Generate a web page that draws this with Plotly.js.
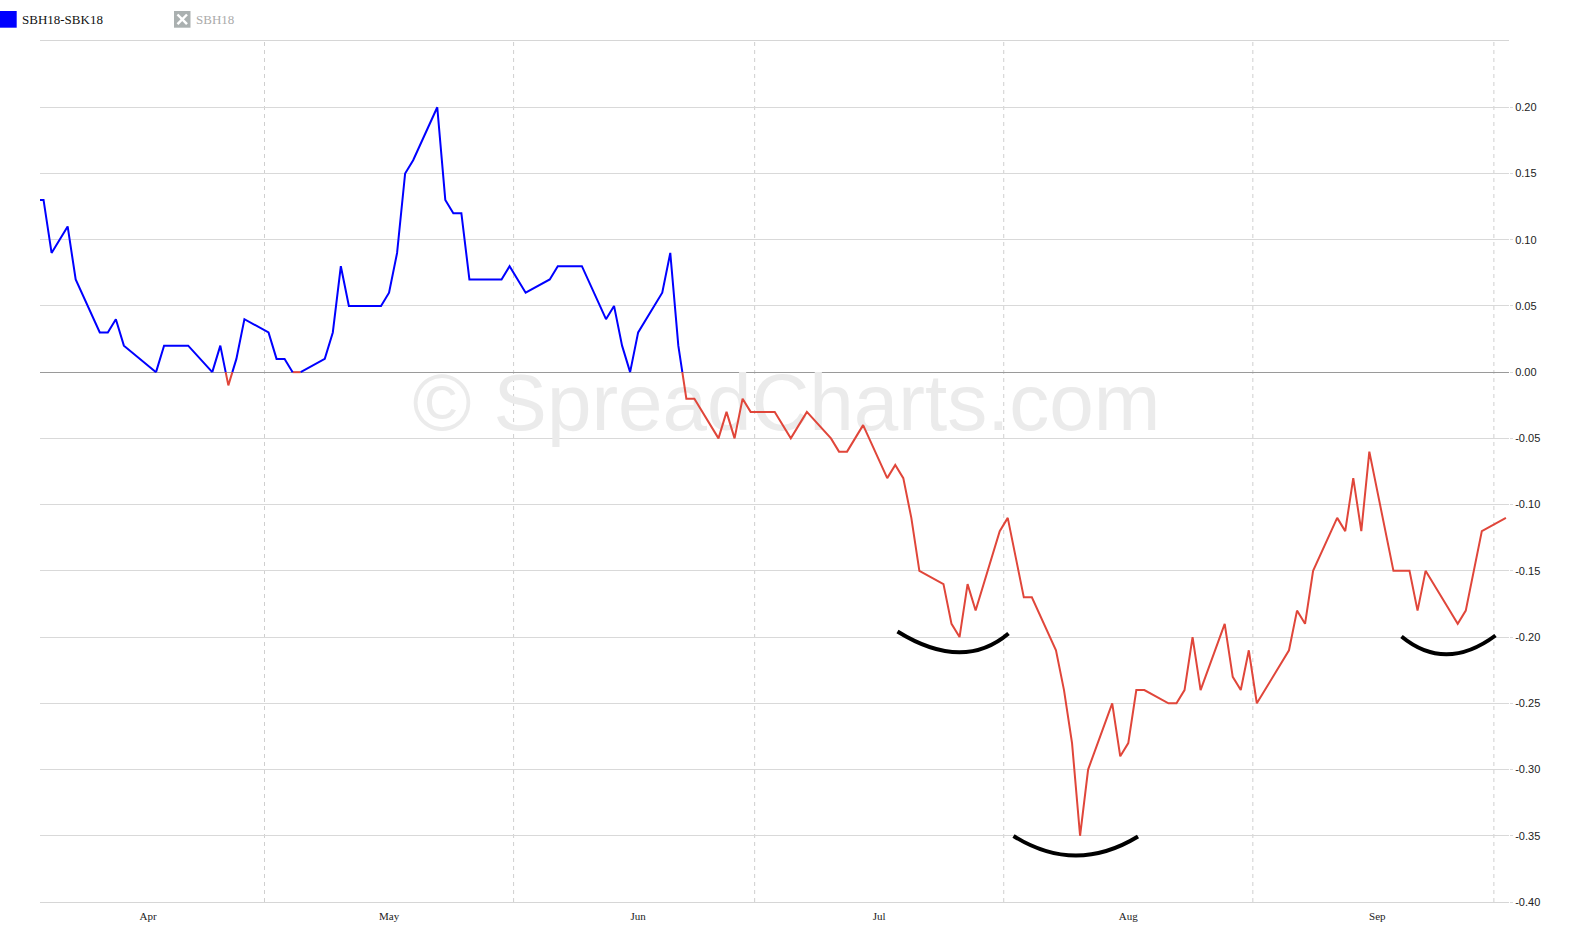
<!DOCTYPE html>
<html>
<head>
<meta charset="utf-8">
<script src="https://cdn.plot.ly/plotly-3.0.1.min.js"></script>
<style>html,body{margin:0;padding:0;background:#fff;}#chart{width:1570px;height:938px;}</style>
</head>
<body>
<div id="chart"></div>
<script>
// ---- data (SBH18-SBK18 spread) ----
const dates = [
 '2018-03-16','2018-03-19','2018-03-20','2018-03-21','2018-03-22','2018-03-23',
 '2018-03-26','2018-03-27','2018-03-28','2018-03-29',
 '2018-04-02','2018-04-03','2018-04-04','2018-04-05','2018-04-06',
 '2018-04-09','2018-04-10','2018-04-11','2018-04-12','2018-04-13',
 '2018-04-16','2018-04-17','2018-04-18','2018-04-19','2018-04-20',
 '2018-04-23','2018-04-24','2018-04-25','2018-04-26','2018-04-27',
 '2018-04-30','2018-05-01','2018-05-02','2018-05-03','2018-05-04',
 '2018-05-07','2018-05-08','2018-05-09','2018-05-10','2018-05-11',
 '2018-05-14','2018-05-15','2018-05-16','2018-05-17','2018-05-18',
 '2018-05-21','2018-05-22','2018-05-23','2018-05-24','2018-05-25',
 '2018-05-28','2018-05-29','2018-05-30','2018-05-31','2018-06-01',
 '2018-06-04','2018-06-05','2018-06-06','2018-06-07','2018-06-08',
 '2018-06-11','2018-06-12','2018-06-13','2018-06-14','2018-06-15',
 '2018-06-18','2018-06-19','2018-06-20','2018-06-21','2018-06-22',
 '2018-06-25','2018-06-26','2018-06-27','2018-06-28','2018-06-29',
 '2018-07-02','2018-07-03','2018-07-04','2018-07-05','2018-07-06',
 '2018-07-09','2018-07-10','2018-07-11','2018-07-12','2018-07-13',
 '2018-07-16','2018-07-17','2018-07-18','2018-07-19','2018-07-20',
 '2018-07-23','2018-07-24','2018-07-25','2018-07-26','2018-07-27',
 '2018-07-30','2018-07-31','2018-08-01','2018-08-02','2018-08-03',
 '2018-08-06','2018-08-07','2018-08-08','2018-08-09','2018-08-10',
 '2018-08-13','2018-08-14','2018-08-15','2018-08-16','2018-08-17',
 '2018-08-20','2018-08-21','2018-08-22','2018-08-23','2018-08-24',
 '2018-08-27','2018-08-28','2018-08-29','2018-08-30','2018-08-31',
 '2018-09-03','2018-09-04','2018-09-05','2018-09-06','2018-09-07',
 '2018-09-10','2018-09-11','2018-09-12','2018-09-13','2018-09-14',
 '2018-09-17'
];
const spread = [
 0.13,0.13,0.09,0.10,0.11,0.07,
 0.03,0.03,0.04,0.02,
 0.00,0.02,0.02,0.02,0.02,
 0.00,0.02,-0.01,0.01,0.04,
 0.03,0.01,0.01,0.00,0.00,
 0.01,0.03,0.08,0.05,0.05,
 0.05,0.06,0.09,0.15,0.16,
 0.20,0.13,0.12,0.12,0.07,
 0.07,0.07,0.08,0.07,0.06,
 0.07,0.08,0.08,0.08,0.08,
 0.04,0.05,0.02,0.00,0.03,
 0.06,0.09,0.02,-0.02,-0.02,
 -0.05,-0.03,-0.05,-0.02,-0.03,
 -0.03,-0.04,-0.05,-0.04,-0.03,
 -0.05,-0.06,-0.06,-0.05,-0.04,
 -0.08,-0.07,-0.08,-0.11,-0.15,
 -0.16,-0.19,-0.20,-0.16,-0.18,
 -0.12,-0.11,-0.14,-0.17,-0.17,
 -0.21,-0.24,-0.28,-0.35,-0.30,
 -0.25,-0.29,-0.28,-0.24,-0.24,
 -0.25,-0.25,-0.24,-0.20,-0.24,
 -0.19,-0.23,-0.24,-0.21,-0.25,
 -0.22,-0.21,-0.18,-0.19,-0.15,
 -0.11,-0.12,-0.08,-0.12,-0.06,
 -0.15,-0.15,-0.15,-0.18,-0.15,
 -0.18,-0.19,-0.18,-0.15,-0.12,
 -0.11
];
const monthTicks  = ['2018-04-01','2018-05-01','2018-06-01','2018-07-01','2018-08-01','2018-09-01'];
const monthLabels = ['Apr','May','Jun','Jul','Aug','Sep'];
const midMonthGrid = ['2018-04-15 12:00','2018-05-16 12:00','2018-06-15 12:00','2018-07-16 12:00','2018-08-16 12:00','2018-09-15 12:00'];
const yTicks = [0.20,0.15,0.10,0.05,0.00,-0.05,-0.10,-0.15,-0.20,-0.25,-0.30,-0.35,-0.40];
const seriesName = 'SBH18-SBK18';
const hiddenName = 'SBH18';
const watermark = '\u00A9 SpreadCharts.com';

// ---- split line into positive (blue) / non-positive (red) runs ----
function msOf(d){ return d.length === 10 ? Date.parse(d + 'T00:00:00Z') : Date.parse(d.replace(' ', 'T') + ':00Z'); }
function isoOf(ms){ return new Date(ms).toISOString().slice(0,19).replace('T',' '); }
const isPos = v => v > 0;
const runs = [];
let cur = {pos: isPos(spread[0]), x: [dates[0]], y: [spread[0]]};
for (let i = 1; i < spread.length; i++) {
  const a = spread[i-1], b = spread[i];
  if (isPos(a) === isPos(b)) { cur.x.push(dates[i]); cur.y.push(b); continue; }
  const ta = msOf(dates[i-1]), tb = msOf(dates[i]);
  const t = a / (a - b);
  const xc = isoOf(ta + t * (tb - ta));
  cur.x.push(xc); cur.y.push(0); runs.push(cur);
  cur = {pos: isPos(b), x: [xc, dates[i]], y: [0, b]};
}
runs.push(cur);
function joinRuns(flag){
  const x = [], y = [];
  runs.filter(r => r.pos === flag).forEach((r, k) => {
    if (k > 0) { x.push(null); y.push(null); }
    x.push(...r.x); y.push(...r.y);
  });
  return {x, y};
}
const blue = joinRuns(true), red = joinRuns(false);

// ---- plot area geometry (for decorations in paper coords) ----
const W = 1570, H = 938, PL = 40, PR = 1509, PT = 41, PB = 902;
const px = v => (v - PL) / (PR - PL);
const py = v => (PB - v) / (PB - PT);

const traces = [
  {x: ['2018-06-19 11:00'], y: [-0.0287], mode: 'text', text: [watermark],
   textfont: {family: 'Liberation Sans, Arial, sans-serif', size: 80, color: '#ebebeb'},
   textposition: 'middle center', hoverinfo: 'skip', showlegend: false, cliponaxis: false},
  {x: red.x, y: red.y, mode: 'lines', line: {color: '#e0463a', width: 2}, connectgaps: false,
   name: seriesName, showlegend: false, hoverinfo: 'x+y'},
  {x: blue.x, y: blue.y, mode: 'lines', line: {color: '#0000ff', width: 2}, connectgaps: false,
   name: seriesName, showlegend: false, hoverinfo: 'x+y'}
];

const shapes = [];
midMonthGrid.forEach(d => shapes.push({type: 'line', xref: 'x', yref: 'paper', x0: d, x1: d, y0: 0, y1: 1,
  line: {color: '#cfcfcf', width: 1, dash: '4px,4px'}, layer: 'below'}));

// hand-drawn smile arcs (quadratic curves, pixel positions -> paper)
function arc(x0, y0, xb, yb, x2, y2){
  const cx = 2*xb - (x0 + x2)/2, cy = 2*yb - (y0 + y2)/2;
  return {type: 'path', xref: 'paper', yref: 'paper',
    path: `M ${px(x0)},${py(y0)} Q ${px(cx)},${py(cy)} ${px(x2)},${py(y2)}`,
    line: {color: '#000', width: 4}, layer: 'above'};
}
shapes.push(arc(897.5, 631.5, 958, 652.3, 1008.5, 633.5));
shapes.push(arc(1013.5, 836, 1075.5, 855.5, 1138, 836.5));
shapes.push(arc(1401.5, 636.5, 1447, 654.3, 1495.5, 635.5));

// legend (drawn manually)
shapes.push({type: 'rect', xref: 'paper', yref: 'paper', x0: px(0), x1: px(16.7), y0: py(27.7), y1: py(11),
  fillcolor: '#0000ff', line: {width: 0}});
shapes.push({type: 'rect', xref: 'paper', yref: 'paper', x0: px(174), x1: px(190.5), y0: py(27.7), y1: py(11),
  fillcolor: '#aab0b0', line: {width: 0}});
shapes.push({type: 'line', xref: 'paper', yref: 'paper', x0: px(177.5), x1: px(187), y0: py(14.5), y1: py(24.2),
  line: {color: '#fff', width: 2.5}});
shapes.push({type: 'line', xref: 'paper', yref: 'paper', x0: px(177.5), x1: px(187), y0: py(24.2), y1: py(14.5),
  line: {color: '#fff', width: 2.5}});

const annotations = [
  {xref: 'paper', yref: 'paper', x: px(20), y: py(19.5), xanchor: 'left', yanchor: 'middle', showarrow: false,
   text: seriesName, font: {family: 'Liberation Serif, serif', size: 13, color: '#111'}},
  {xref: 'paper', yref: 'paper', x: px(194), y: py(19.5), xanchor: 'left', yanchor: 'middle', showarrow: false,
   text: hiddenName, font: {family: 'Liberation Serif, serif', size: 13, color: '#aaaaaa'}}
];

const layout = {
  width: W, height: H,
  margin: {l: PL, r: W - PR, t: PT, b: H - PB, pad: 0},
  paper_bgcolor: '#fff', plot_bgcolor: '#fff',
  showlegend: false,
  xaxis: {
    type: 'date', range: ['2018-03-18 13:25', '2018-09-17 09:10'],
    tickmode: 'array', tickvals: monthTicks, ticktext: monthLabels,
    showgrid: false, zeroline: false,
    showline: true, mirror: true, linecolor: '#d6d6d6', linewidth: 1,
    ticks: 'outside', ticklen: 4, tickcolor: 'rgba(0,0,0,0)',
    tickfont: {family: 'Liberation Serif, serif', size: 11, color: '#222'},
    fixedrange: true
  },
  yaxis: {
    side: 'right', range: [-0.40, 0.25],
    tickmode: 'array', tickvals: yTicks, ticktext: yTicks.map(v => v.toFixed(2)),
    showgrid: true, gridcolor: '#d9d9d9', gridwidth: 1,
    zeroline: true, zerolinecolor: '#9a9a9a', zerolinewidth: 1,
    showline: false,
    ticks: 'outside', ticklen: 3, tickcolor: '#d9d9d9',
    tickfont: {family: 'Liberation Sans, Arial, sans-serif', size: 11, color: '#222'},
    fixedrange: true
  },
  shapes: shapes,
  annotations: annotations
};

Plotly.newPlot('chart', traces, layout, {displayModeBar: false, staticPlot: true});
</script>
</body>
</html>
